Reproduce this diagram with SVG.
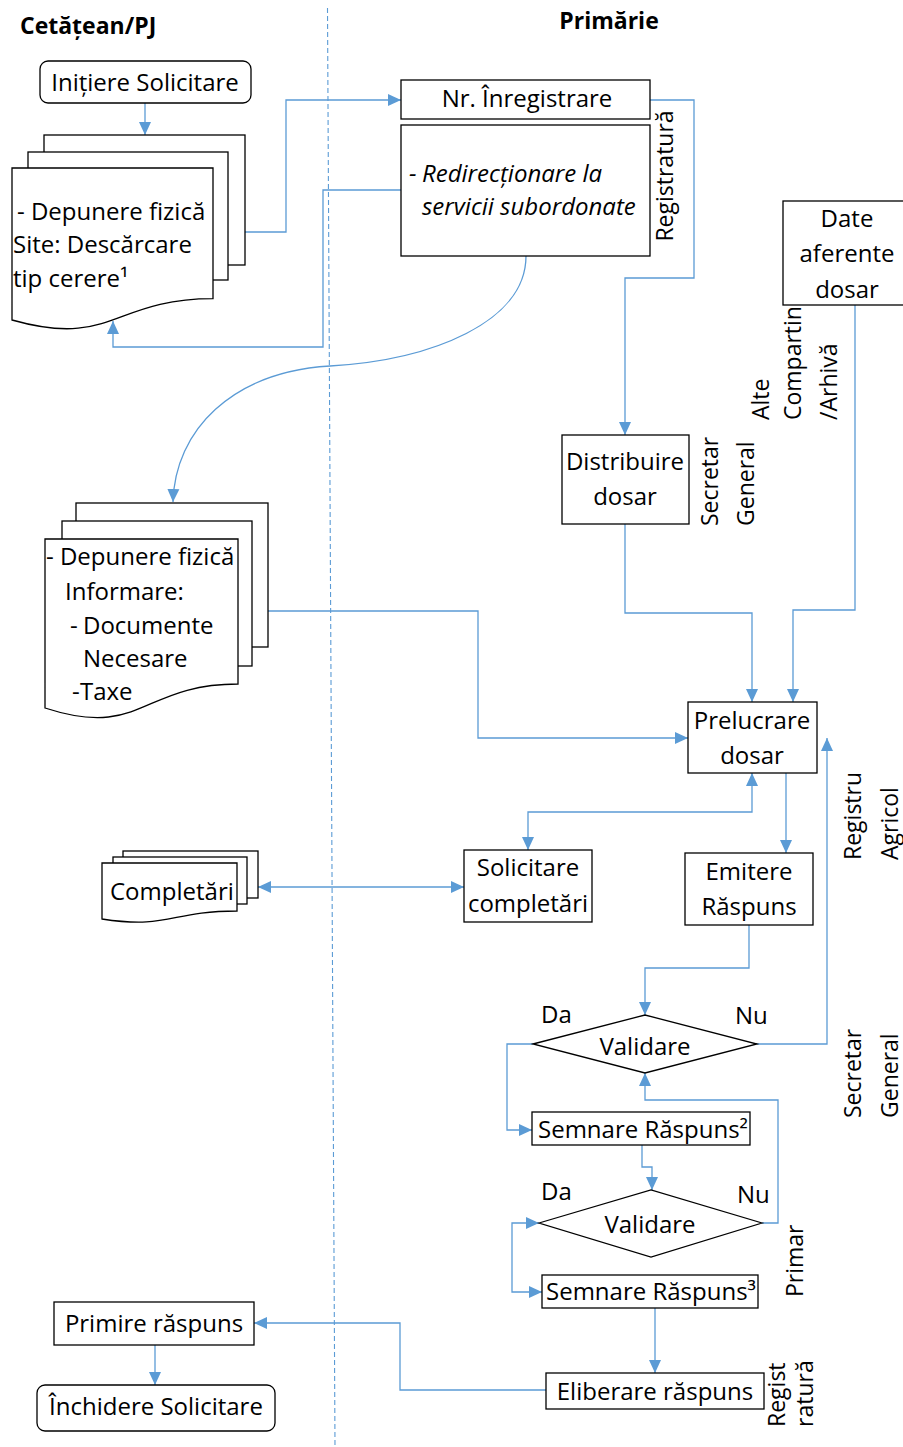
<svg xmlns="http://www.w3.org/2000/svg" width="903" height="1447" viewBox="0 0 903 1447">
  <defs>
    <style>
      .box { fill: #fff; stroke: #000; stroke-width: 1.3; }
      .conn { fill: none; stroke: #5B9BD5; stroke-width: 1.3; }
      .lane { fill: none; stroke: #5B9BD5; stroke-width: 1.1; stroke-dasharray: 5 3; }
      text { font-family: "Open Sans", "Noto Sans", "DejaVu Sans", sans-serif; font-size: 24px; fill: #000; }
      .c { text-anchor: middle; }
      .v { font-size: 23px; }
      .hdr { font-weight: bold; font-size: 23px; }
      .it { font-style: italic; }
    </style>
    <marker id="arr" viewBox="0 0 13 13" refX="13" refY="6.5" markerWidth="13" markerHeight="13" markerUnits="userSpaceOnUse" orient="auto-start-reverse">
      <path d="M0,0.5 L13,6.5 L0,12.5 z" fill="#5B9BD5"/>
    </marker>
  </defs>

  <rect x="0" y="0" width="903" height="1447" fill="#fff"/>

  <!-- swimlane headers and divider -->
  <g id="lanes">
    <text class="hdr" x="20" y="34">Cetățean/PJ</text>
    <text class="hdr c" x="609" y="29">Primărie</text>
    <line class="lane" x1="327.5" y1="8" x2="335" y2="1447"/>
  </g>

  <!-- connectors -->
  <g id="connectors">
    <path class="conn" d="M145,103 V135" marker-end="url(#arr)"/>
    <path class="conn" d="M245,232 H286 V100 H401" marker-end="url(#arr)"/>
    <path class="conn" d="M401,190 H323 V347 H113 V321" marker-end="url(#arr)"/>
    <path class="conn" d="M650,100 H694 V278 H625 V435" marker-end="url(#arr)"/>
    <path class="conn" d="M526,256 C526,322 432,360 330,366 C232,372 175,430 173,502" marker-end="url(#arr)"/>
    <path class="conn" d="M855,305 V610 H793 V702" marker-end="url(#arr)"/>
    <path class="conn" d="M625,524 V613 H752 V702" marker-end="url(#arr)"/>
    <path class="conn" d="M268,611 H478 V738 H688" marker-end="url(#arr)"/>
    <path class="conn" d="M752,773 V812 H528 V850" marker-start="url(#arr)" marker-end="url(#arr)"/>
    <path class="conn" d="M258,887 H464" marker-start="url(#arr)" marker-end="url(#arr)"/>
    <path class="conn" d="M786,773 V853" marker-end="url(#arr)"/>
    <path class="conn" d="M749,925 V968 H645 V1015" marker-end="url(#arr)"/>
    <path class="conn" d="M757,1044 H827 V738" marker-end="url(#arr)"/>
    <path class="conn" d="M533,1044 H507 V1130 H532" marker-end="url(#arr)"/>
    <path class="conn" d="M642,1145 V1167 H652 V1190" marker-end="url(#arr)"/>
    <path class="conn" d="M762,1223 H778 V1100 H645 V1073" marker-end="url(#arr)"/>
    <path class="conn" d="M539,1223 H512 V1292 H542" marker-start="url(#arr)" marker-end="url(#arr)"/>
    <path class="conn" d="M655,1308 V1373" marker-end="url(#arr)"/>
    <path class="conn" d="M546,1390 H400 V1323 H254" marker-end="url(#arr)"/>
    <path class="conn" d="M155,1345 V1385" marker-end="url(#arr)"/>
  </g>

  <!-- citizen lane -->
  <g id="n-initiere">
    <rect class="box" x="40" y="61" width="211" height="42" rx="8"/>
    <text class="c" x="145" y="91">Inițiere Solicitare</text>
  </g>

  <g id="n-depunere-1">
    <rect class="box" x="44" y="135" width="201" height="130"/>
    <rect class="box" x="28" y="152" width="200" height="128"/>
    <path class="box" d="M12,168 H213 V298.7 C112.5,298.7 112.5,348.4 12,320 Z"/>
    <text x="17" y="220">- Depunere fizică</text>
    <text x="13" y="253">Site: Descărcare</text>
    <text x="13" y="287">tip cerere¹</text>
  </g>

  <g id="n-depunere-2">
    <rect class="box" x="76" y="503" width="192" height="144"/>
    <rect class="box" x="62" y="521" width="190" height="145"/>
    <path class="box" d="M45,539 H238 V684 C141.5,684 141.5,739.4 45,708 Z"/>
    <text x="46" y="565">- Depunere fizică</text>
    <text x="65" y="600">Informare:</text>
    <text x="70" y="634">-</text>
    <text x="83" y="634">Documente</text>
    <text x="83" y="667">Necesare</text>
    <text x="72" y="700">-</text>
    <text x="80" y="700">Taxe</text>
  </g>

  <g id="n-completari">
    <rect class="box" x="123" y="851" width="135" height="47"/>
    <rect class="box" x="113" y="857" width="134" height="47"/>
    <path class="box" d="M102,863 H237 V911 C169.5,911 169.5,929.4 102,919 Z"/>
    <text x="110" y="900">Completări</text>
  </g>

  <g id="n-primire">
    <rect class="box" x="54" y="1302" width="200" height="43"/>
    <text class="c" x="154" y="1332">Primire răspuns</text>
  </g>

  <g id="n-inchidere">
    <rect class="box" x="37" y="1385" width="238" height="46" rx="8"/>
    <text class="c" x="156" y="1415">Închidere Solicitare</text>
  </g>

  <!-- town hall lane -->
  <g id="n-nr-inregistrare">
    <rect class="box" x="401" y="80" width="249" height="39"/>
    <text class="c" x="527" y="107">Nr. Înregistrare</text>
  </g>

  <g id="n-redirectionare">
    <rect class="box" x="401" y="125" width="249" height="131"/>
    <text class="it" x="409" y="182">-</text>
    <text class="it" x="422" y="182">Redirecționare la</text>
    <text class="it" x="422" y="215">servicii subordonate</text>
  </g>

  <g id="label-registratura">
    <text class="v c" transform="translate(673,176) rotate(-90)">Registratură</text>
  </g>

  <g id="label-alte-compartimente">
    <text class="v" transform="translate(769,420) rotate(-90)">Alte</text>
    <text class="v" transform="translate(801,420) rotate(-90)">Compartin</text>
    <text class="v" transform="translate(837,420) rotate(-90)">/Arhivă</text>
  </g>

  <g id="n-date-aferente">
    <rect class="box" x="783" y="201" width="130" height="104"/>
    <text class="c" x="847" y="227">Date</text>
    <text class="c" x="847" y="262">aferente</text>
    <text class="c" x="847" y="298">dosar</text>
  </g>

  <g id="n-distribuire">
    <rect class="box" x="562" y="435" width="127" height="89"/>
    <text class="c" x="625" y="470">Distribuire</text>
    <text class="c" x="625" y="505">dosar</text>
  </g>

  <g id="label-secretar-1">
    <text class="v" transform="translate(718,526) rotate(-90)">Secretar</text>
    <text class="v" transform="translate(754,526) rotate(-90)">General</text>
  </g>

  <g id="n-prelucrare">
    <rect class="box" x="688" y="702" width="129" height="71"/>
    <text class="c" x="752" y="729">Prelucrare</text>
    <text class="c" x="752" y="764">dosar</text>
  </g>

  <g id="label-registru-agricol">
    <text class="v" transform="translate(861,860) rotate(-90)">Registru</text>
    <text class="v" transform="translate(898,860) rotate(-90)">Agricol</text>
  </g>

  <g id="n-solicitare">
    <rect class="box" x="464" y="850" width="128" height="72"/>
    <text class="c" x="528" y="876">Solicitare</text>
    <text class="c" x="528" y="912">completări</text>
  </g>

  <g id="n-emitere">
    <rect class="box" x="685" y="853" width="128" height="72"/>
    <text class="c" x="749" y="880">Emitere</text>
    <text class="c" x="749" y="915">Răspuns</text>
  </g>

  <g id="n-validare-1">
    <polygon class="box" points="533,1044 645,1015 757,1044 645,1073"/>
    <text class="c" x="645" y="1055">Validare</text>
    <text x="541" y="1023">Da</text>
    <text x="735" y="1024">Nu</text>
  </g>

  <g id="label-secretar-2">
    <text class="v" transform="translate(861,1118) rotate(-90)">Secretar</text>
    <text class="v" transform="translate(898,1118) rotate(-90)">General</text>
  </g>

  <g id="n-semnare-2">
    <rect class="box" x="532" y="1112" width="218" height="33"/>
    <text x="538" y="1138">Semnare Răspuns²</text>
  </g>

  <g id="n-validare-2">
    <polygon class="box" points="539,1223 651,1190 762,1223 651,1257"/>
    <text class="c" x="650" y="1233">Validare</text>
    <text x="541" y="1200">Da</text>
    <text x="737" y="1203">Nu</text>
  </g>

  <g id="label-primar">
    <text class="v" transform="translate(803,1297) rotate(-90)">Primar</text>
  </g>

  <g id="n-semnare-3">
    <rect class="box" x="542" y="1275" width="216" height="33"/>
    <text x="546" y="1300">Semnare Răspuns³</text>
  </g>

  <g id="n-eliberare">
    <rect class="box" x="546" y="1373" width="218" height="36"/>
    <text class="c" x="655" y="1400">Eliberare răspuns</text>
  </g>

  <g id="label-registratura-2">
    <text class="v" transform="translate(785,1427) rotate(-90)">Regist</text>
    <text class="v" transform="translate(813,1427) rotate(-90)">ratură</text>
  </g>
</svg>
